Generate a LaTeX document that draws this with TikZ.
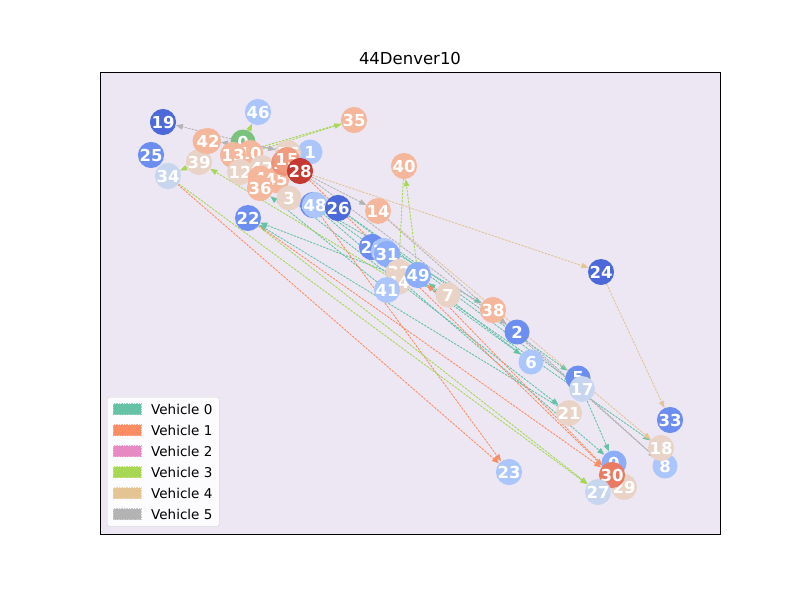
\documentclass[tikz,border=0pt]{standalone}
\usepackage{fontspec}
\setmainfont{DejaVu Sans}
\usetikzlibrary{arrows.meta}
\pgfdeclarelayer{bg}\pgfdeclarelayer{edges}\pgfsetlayers{bg,edges,main}
\definecolor{axbg}{RGB}{237,231,244}
\definecolor{cdark}{RGB}{76,105,218}
\definecolor{cblue}{RGB}{108,142,240}
\definecolor{cmid}{RGB}{140,174,250}
\definecolor{clight}{RGB}{170,198,252}
\definecolor{cvlight}{RGB}{199,214,238}
\definecolor{cpeachl}{RGB}{233,211,198}
\definecolor{cpeach}{RGB}{244,183,155}
\definecolor{corange}{RGB}{234,123,98}
\definecolor{cred}{RGB}{196,58,50}
\definecolor{cgreen}{RGB}{122,194,125}
\definecolor{vz}{RGB}{102,194,165}
\definecolor{vo}{RGB}{252,141,98}
\definecolor{vt}{RGB}{231,138,195}
\definecolor{vh}{RGB}{166,216,84}
\definecolor{vf}{RGB}{229,196,148}
\definecolor{vg}{RGB}{179,179,179}
\tikzset{
  cnode/.style={circle, minimum size=25pt, inner sep=0pt, text=white,
    font=\bfseries\fontsize{16.5}{16.5}\selectfont},
  edge/.style={-{Triangle[length=7pt,width=5.5pt]}, dash pattern=on 2pt off 1.5pt, line width=0.9pt},
  e0/.style={edge, draw=vz, fill=vz},
  e1/.style={edge, draw=vo, fill=vo},
  e3/.style={edge, draw=vh, fill=vh},
  e4/.style={edge, draw=vf, fill=vf},
  e5/.style={edge, draw=vg, fill=vg},
  legpatch/.style={minimum width=28pt, minimum height=11pt, inner sep=0pt, dash pattern=on 1.5pt off 1pt, line width=0.5pt},
  legtext/.style={anchor=west, inner sep=0pt, font=\fontsize{13.5}{13.5}\selectfont}
}
\begin{document}
\begin{tikzpicture}[x=1pt,y=-1pt]
\useasboundingbox (0,0) rectangle (800,600);
\begin{pgfonlayer}{bg}
\fill[white] (0,0) rectangle (800,600);
\fill[axbg] (100,72) rectangle (720,534);
\end{pgfonlayer}
\node[font=\fontsize{16.5}{16.5}\selectfont] (title) at (410,58) {44Denver10};
% nodes
\node[cnode, fill=cpeach] (n35) at (354,120) {35};
\node[cnode, fill=clight] (n46) at (258,112) {46};
\node[cnode, fill=cdark] (n19) at (163,122) {19};
\node[cnode, fill=cblue] (n25) at (151,155) {25};
\node[cnode, fill=cvlight] (n34) at (168,176) {34};
\node[cnode, fill=cpeachl] (n39) at (199,162) {39};
\node[cnode, fill=cgreen] (n0) at (243,142) {0};
\node[cnode, fill=cpeach] (n4) at (205,141) {4};
\node[cnode, fill=cpeach] (n42) at (208,141) {42};
\node[cnode, fill=clight] (n1) at (310,152) {1};
\node[cnode, fill=cpeachl] (n16) at (288,153) {16};
\node[cnode, fill=cpeach] (n10) at (250,153) {10};
\node[cnode, fill=cpeach] (n13) at (233,155) {13};
\node[cnode, fill=cpeachl] (n12) at (240,172) {12};
\node[cnode, fill=cpeachl] (n47) at (262,168) {47};
\node[cnode, fill=cpeach] (n4b) at (260,178) {4};
\node[cnode, fill=cpeach] (n45) at (276,180) {45};
\node[cnode, fill=cpeach] (n36) at (260,188) {36};
\node[cnode, fill=corange!60!cpeach] (n11) at (284,163) {11};
\node[cnode, fill=corange!45!cpeach] (n15) at (287,160) {15};
\node[cnode, fill=cpeachl] (n3) at (289,198) {3};
\node[cnode, fill=cred] (n28) at (300,171) {28};
\node[cnode, fill=cblue] (n43) at (313,205) {43};
\node[cnode, fill=clight] (n48) at (315,205) {48};
\node[cnode, fill=cdark] (n26) at (338,208) {26};
\node[cnode, fill=cpeach] (n14) at (378,211) {14};
\node[cnode, fill=cpeach] (n40) at (404,166) {40};
\node[cnode, fill=cblue] (n22) at (248,218) {22};
\node[cnode, fill=cblue] (n20) at (372,247) {20};
\node[cnode, fill=clight] (n37) at (384,251) {37};
\node[cnode, fill=cmid] (n31) at (387,254) {31};
\node[cnode, fill=cpeachl] (n32) at (399,272) {32};
\node[cnode, fill=cpeachl] (n44) at (398,282) {44};
\node[cnode, fill=clight] (n41) at (387,290) {41};
\node[cnode, fill=cmid] (n49) at (418,275) {49};
\node[cnode, fill=cpeachl] (n7) at (448,295) {7};
\node[cnode, fill=cpeach] (n38) at (493,310) {38};
\node[cnode, fill=cblue] (n2) at (517,332) {2};
\node[cnode, fill=clight] (n6) at (531,362) {6};
\node[cnode, fill=cdark] (n24) at (601,272) {24};
\node[cnode, fill=cblue] (n5) at (578,378) {5};
\node[cnode, fill=cvlight] (n17) at (582,389) {17};
\node[cnode, fill=cpeachl] (n21) at (569,413) {21};
\node[cnode, fill=cblue] (n33) at (670,420) {33};
\node[cnode, fill=clight] (n8) at (665,466) {8};
\node[cnode, fill=cpeachl] (n18) at (661,448) {18};
\node[cnode, fill=clight] (n23) at (509,472) {23};
\node[cnode, fill=cmid] (n9) at (614,463) {9};
\node[cnode, fill=cpeachl] (n29) at (624,487) {29};
\node[cnode, fill=corange] (n30) at (612,475) {30};
\node[cnode, fill=cvlight] (n27) at (598,492) {27};
% edges
\begin{pgfonlayer}{edges}
% vehicle 0
\draw[e0] (n43) -- (n38);
\draw[e0] (n48) -- (n6);
\draw[e0] (n26) -- (n5);
\draw[e0] (n3) -- (n21);
\draw[e0] (n20) -- (n18);
\draw[e0] (n17) -- (n9);
\draw[e0] (n7) -- (n22);
\draw[e0] (n41) -- (n36);
\draw[e0] (n6) -- (n49);
\draw[e0] (n43) -- (n9);
\draw[e0] (n21) -- (n22);
\draw[e0] (n26) -- (n17);
% vehicle 1
\draw[e1] (n34) -- (n23);
\draw[e1] (n22) -- (n30);
\draw[e1] (n28) -- (n30);
\draw[e1] (n30) -- (n49);
\draw[e1] (n43) -- (n23);
% vehicle 3
\draw[e3] (n0) -- (n46);
\draw[e3] (n10) -- (n35);
\draw[e3] (n35) -- (n13);
\draw[e3] (n39) -- (n34);
\draw[e3] (n34) -- (n27);
\draw[e3] (n22) -- (n27);
\draw[e3] (n44) -- (n39);
\draw[e3] (n49) -- (n40);
\draw[e3] (n40) -- (n44);
% vehicle 4
\draw[e4] (n28) -- (n24);
\draw[e4] (n24) -- (n33);
\draw[e4] (n14) -- (n18);
% vehicle 5
\draw[e5] (n16) -- (n19);
\draw[e5] (n1) -- (n42);
\draw[e5] (n0) -- (n16);
\draw[e5] (n28) -- (n14);
\draw[e5] (n14) -- (n8);
\draw[e5] (n28) -- (n2);
\draw[e5] (n2) -- (n8);
\end{pgfonlayer}
% axes frame
\draw[line width=0.8pt] (100,72) rectangle (720,534);
% legend
\node[draw=black!18, fill=white, fill opacity=0.85, rounded corners=2pt, minimum width=112pt, minimum height=129pt, anchor=north west] (legend) at (107,397) {};
\node[legpatch, fill=vz, draw=vz!70!white] (p0) at (127,409) {};
\node[legpatch, fill=vo, draw=vo!70!white] (p1) at (127,430) {};
\node[legpatch, fill=vt, draw=vt!70!white] (p2) at (127,451) {};
\node[legpatch, fill=vh, draw=vh!70!white] (p3) at (127,472) {};
\node[legpatch, fill=vf, draw=vf!70!white] (p4) at (127,493) {};
\node[legpatch, fill=vg, draw=vg!70!white] (p5) at (127,514) {};
\node[legtext] (t0) at (151,409) {Vehicle 0};
\node[legtext] (t1) at (151,430) {Vehicle 1};
\node[legtext] (t2) at (151,451) {Vehicle 2};
\node[legtext] (t3) at (151,472) {Vehicle 3};
\node[legtext] (t4) at (151,493) {Vehicle 4};
\node[legtext] (t5) at (151,514) {Vehicle 5};
\end{tikzpicture}
\end{document}
